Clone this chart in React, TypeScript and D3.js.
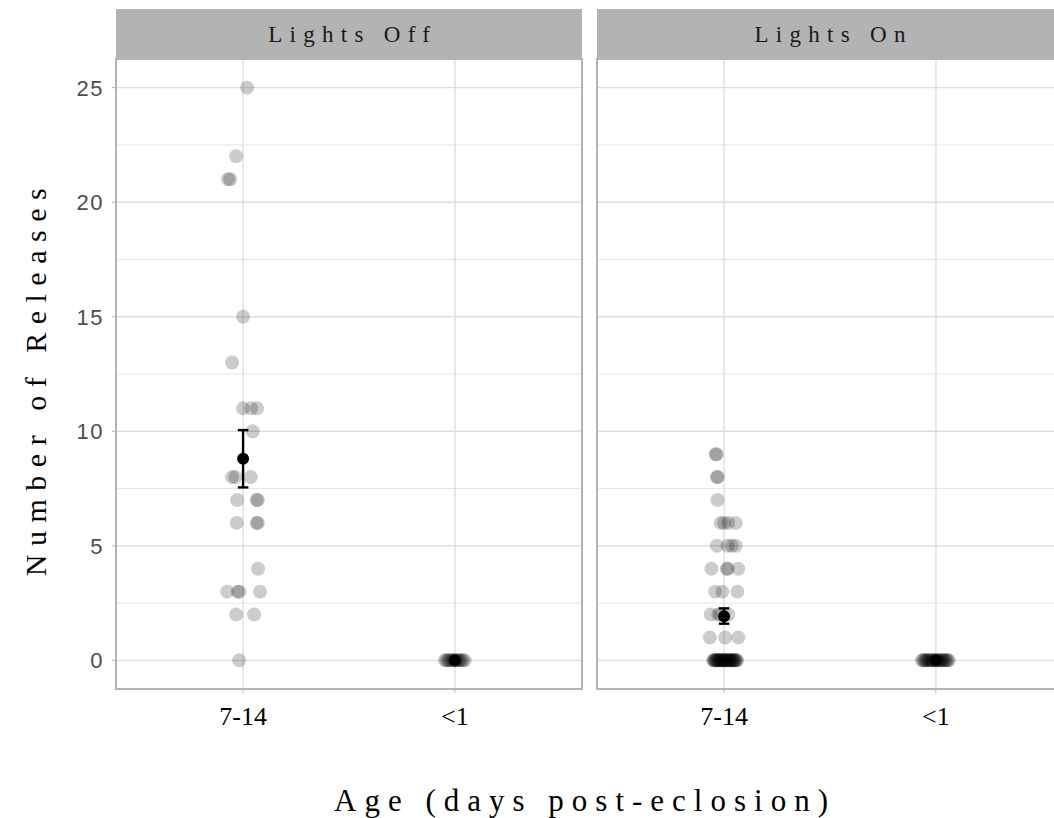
import React from "react";
import * as d3 from "d3";

// Facets and categories
const lightLevels = ["Lights Off", "Lights On"];
const ageLevels = ["7-14", "<1"];
const yTicks = [0, 5, 10, 15, 20, 25];

// Individual observations: release counts, with horizontal jitter in category units
const offOlderValues = [25, 22, 21, 21, 15, 13, 11, 11, 11, 10, 8, 8, 8, 7, 7, 7, 6, 6, 6, 4, 3, 3, 3, 3, 2, 2, 0];
const offOlderJitter = [0.019, -0.033, -0.071, -0.061, 0.0, -0.052, 0.0, 0.038, 0.066, 0.045, -0.052, -0.036, 0.036, -0.028, 0.064, 0.07, -0.03, 0.064, 0.07, 0.071, -0.075, -0.026, -0.017, 0.08, -0.033, 0.052, -0.019];

const offYoungValues = [0, 0, 0, 0, 0, 0, 0, 0, 0, 0, 0, 0, 0, 0];
const offYoungJitter = [-0.047, -0.04, -0.033, -0.026, -0.019, -0.012, -0.005, 0.002, 0.009, 0.016, 0.023, 0.03, 0.038, 0.046];

const onOlderValues = [
  9, 9, 8, 8, 7, 6, 6, 6, 6, 5, 5, 5, 5, 4, 4, 4, 4, 3, 3, 3, 2, 2, 2, 2, 1, 1, 1,
  0, 0, 0, 0, 0, 0, 0, 0, 0, 0, 0,
  0, 0, 0, 0, 0, 0, 0, 0, 0, 0, 0,
  0, 0, 0, 0, 0, 0, 0, 0, 0, 0, 0,
];
const onOlderJitter = [
  -0.04, -0.035, -0.034, -0.03, -0.031, -0.016, 0.0, 0.02, 0.055, -0.034, 0.016, 0.036, 0.055, -0.06, 0.013, 0.017, 0.067, -0.042, -0.008, 0.063, -0.063, -0.027, -0.019, 0.02, -0.067, 0.005, 0.067,
  -0.052, -0.048, -0.045, -0.041, -0.038, -0.034, -0.031, -0.027, -0.024, -0.02, -0.017,
  -0.013, -0.01, -0.006, -0.003, 0.0, 0.004, 0.007, 0.011, 0.014, 0.018, 0.021,
  0.025, 0.028, 0.032, 0.036, 0.039, 0.043, 0.047, 0.05, 0.054, 0.058, 0.061,
];

const onYoungValues = [0, 0, 0, 0, 0, 0, 0, 0, 0, 0, 0, 0, 0, 0, 0, 0, 0, 0, 0, 0, 0, 0, 0, 0];
const onYoungJitter = [-0.066, -0.06, -0.055, -0.049, -0.044, -0.038, -0.033, -0.027, -0.022, -0.016, -0.011, -0.005, 0.0, 0.006, 0.011, 0.017, 0.022, 0.028, 0.033, 0.039, 0.044, 0.05, 0.055, 0.061];

// Group summaries: mean and standard-error bounds
const summaryLight = ["Lights Off", "Lights Off", "Lights On", "Lights On"];
const summaryAge = ["7-14", "<1", "7-14", "<1"];
const summaryMean = [8.8, 0, 1.93, 0];
const summaryLower = [7.55, 0, 1.6, 0];
const summaryUpper = [10.05, 0, 2.27, 0];

type Obs = { light: string; age: string; value: number; jitter: number };

function buildGroup(light: string, age: string, values: number[], jitter: number[]): Obs[] {
  return values.map((v, i) => ({ light, age, value: v, jitter: jitter[i] ?? 0 }));
}

const observations: Obs[] = [
  ...buildGroup("Lights Off", "7-14", offOlderValues, offOlderJitter),
  ...buildGroup("Lights Off", "<1", offYoungValues, offYoungJitter),
  ...buildGroup("Lights On", "7-14", onOlderValues, onOlderJitter),
  ...buildGroup("Lights On", "<1", onYoungValues, onYoungJitter),
];

const W = 1054;
const H = 818;
const panelLeft = [116, 597];
const panelWidth = 466;
const stripTop = 9;
const panelTop = 59;
const panelBottom = 689;

const GRID = "#dedede";
const FRAME = "#b3b3b3";
const SERIF = "'Liberation Serif', 'Times New Roman', serif";
const SANS = "'Liberation Sans', Arial, sans-serif";

const stripSpacing = 7.3;

export default function App() {
  const y = d3.scaleLinear().domain([-1.25, 26.25]).range([panelBottom, panelTop]);
  const minorTicks = d3.range(2.5, 25, 5);

  return (
    <svg
      width={W}
      height={H}
      viewBox={`0 0 ${W} ${H}`}
      style={{ position: "absolute", left: 0, top: 0, background: "#fff" }}
    >
      <defs>
        <clipPath id="canvas-clip">
          <rect x={0} y={0} width={W} height={H} />
        </clipPath>
      </defs>
      <g clipPath="url(#canvas-clip)">
        {lightLevels.map((light, pi) => {
          const x0 = panelLeft[pi];
          const x = d3.scalePoint<string>().domain(ageLevels).range([x0, x0 + panelWidth]).padding(0.6);
          const step = x.step();
          const pts = observations.filter((d) => d.light === light);
          // letter-spacing trails the last glyph, so shift the anchor by half of it
          const labelCenter = x0 + panelWidth / 2 + stripSpacing / 2;
          return (
            <g key={light}>
              {/* strip */}
              <rect x={x0} y={stripTop} width={panelWidth} height={panelTop - stripTop} fill={FRAME} />
              <text
                x={labelCenter}
                y={(stripTop + panelTop) / 2}
                dy="0.35em"
                textAnchor="middle"
                fontFamily={SERIF}
                fontSize={23}
                letterSpacing={stripSpacing}
                fill="#1a1a1a"
              >
                {light}
              </text>
              {/* grid */}
              {minorTicks.map((t) => (
                <line key={"mn" + t} x1={x0} x2={x0 + panelWidth} y1={y(t)} y2={y(t)} stroke={GRID} strokeWidth={0.8} />
              ))}
              {yTicks.map((t) => (
                <line key={"mj" + t} x1={x0} x2={x0 + panelWidth} y1={y(t)} y2={y(t)} stroke={GRID} strokeWidth={1.4} />
              ))}
              {ageLevels.map((a) => (
                <line key={"vx" + a} x1={x(a)} x2={x(a)} y1={panelTop} y2={panelBottom} stroke={GRID} strokeWidth={1.4} />
              ))}
              {/* observations */}
              {pts.map((d, i) => (
                <circle
                  key={i}
                  cx={(x(d.age) as number) + d.jitter * step}
                  cy={y(d.value)}
                  r={7}
                  fill="#000"
                  fillOpacity={0.2}
                />
              ))}
              {/* mean ± SE */}
              {summaryMean.map((m, i) => {
                if (summaryLight[i] !== light) return null;
                const cx = x(summaryAge[i]) as number;
                const cap = 0.025 * step;
                return (
                  <g key={"s" + i}>
                    <line x1={cx} x2={cx} y1={y(summaryLower[i])} y2={y(summaryUpper[i])} stroke="#000" strokeWidth={2.4} />
                    <line x1={cx - cap} x2={cx + cap} y1={y(summaryLower[i])} y2={y(summaryLower[i])} stroke="#000" strokeWidth={2.4} />
                    <line x1={cx - cap} x2={cx + cap} y1={y(summaryUpper[i])} y2={y(summaryUpper[i])} stroke="#000" strokeWidth={2.4} />
                    <circle cx={cx} cy={y(m)} r={6} fill="#000" />
                  </g>
                );
              })}
              {/* frame */}
              <rect x={x0} y={panelTop} width={panelWidth} height={panelBottom - panelTop} fill="none" stroke={FRAME} strokeWidth={2} />
              {/* x ticks and labels */}
              {ageLevels.map((a) => (
                <g key={"xt" + a}>
                  <line x1={x(a)} x2={x(a)} y1={panelBottom} y2={panelBottom + 4} stroke={FRAME} strokeWidth={1} />
                  <text x={x(a)} y={panelBottom + 36} textAnchor="middle" fontFamily={SERIF} fontSize={26} fill="#000">
                    {a}
                  </text>
                </g>
              ))}
            </g>
          );
        })}

        {/* y axis */}
        {yTicks.map((t) => (
          <g key={"yt" + t}>
            <line x1={panelLeft[0] - 4} x2={panelLeft[0]} y1={y(t)} y2={y(t)} stroke={FRAME} strokeWidth={1} />
            <text
              x={panelLeft[0] - 12}
              y={y(t)}
              dy="0.36em"
              textAnchor="end"
              fontFamily={SANS}
              fontSize={22}
              letterSpacing={1.5}
              fill="#4d4d4d"
            >
              {String(t)}
            </text>
          </g>
        ))}

        {/* axis titles */}
        <text
          transform={`translate(${35}, ${(panelTop + panelBottom) / 2 + 4}) rotate(-90)`}
          textAnchor="middle"
          dy="0.35em"
          fontFamily={SERIF}
          fontSize={30}
          letterSpacing={8.5}
          fill="#000"
        >
          Number of Releases
        </text>
        <text
          x={585}
          y={800}
          dy="0.35em"
          textAnchor="middle"
          fontFamily={SERIF}
          fontSize={31}
          letterSpacing={8}
          fill="#000"
        >
          Age (days post-eclosion)
        </text>
      </g>
    </svg>
  );
}
